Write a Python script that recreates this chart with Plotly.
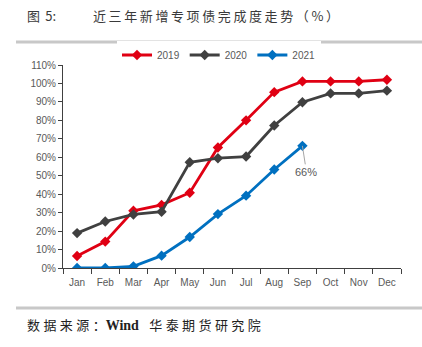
import plotly.graph_objects as go

months = ["Jan","Feb","Mar","Apr","May","Jun","Jul","Aug","Sep","Oct","Nov","Dec"]
y2019 = [6.5, 14.3, 31.0, 34.2, 40.8, 65.3, 80.0, 95.3, 101.1, 101.1, 101.1, 102.0]
y2020 = [18.9, 25.2, 29.0, 30.5, 57.3, 59.5, 60.4, 77.2, 89.8, 94.6, 94.6, 96.1]
y2021 = [0.0, 0.0, 0.9, 6.7, 16.8, 29.2, 39.2, 53.4, 66.2]
series = [("2019", y2019, "#e00013"), ("2020", y2020, "#404040"), ("2021", y2021, "#0070c0")]
yticks = list(range(0, 111, 10))

W, H = 422, 347
L, R, T, B = 63, 21, 65, 79
pw, ph = W - L - R, H - T - B
def px(x): return (x - L) / pw
def py(y): return (H - B - y) / ph
def sp(s, g="\u2009"): return g.join(s)

fig = go.Figure()
for name, vals, col in series:
    fig.add_trace(go.Scatter(
        x=months[:len(vals)], y=vals, name=name, mode="lines+markers",
        line=dict(color=col, width=2.8),
        marker=dict(symbol="diamond", size=8, color=col),
    ))

fig.add_annotation(x="Sep", y=y2021[8], text="66%", showarrow=True, arrowhead=0,
                   arrowwidth=1, arrowcolor="#a6a6a6", ax=4, ay=26,
                   font=dict(size=11, color="#595959", family="Liberation Sans"))

cjk = "Noto Sans CJK SC"
fig.add_annotation(xref="paper", yref="paper", x=px(25), y=py(15), xanchor="left", yanchor="middle",
                   text="图\u2009\u20095:", showarrow=False,
                   font=dict(size=13, color="#3a3a3a", family=cjk))
fig.add_annotation(xref="paper", yref="paper", x=px(91), y=py(15), xanchor="left", yanchor="middle",
                   text=sp("近三年新增专项债完成度走势（%）"), showarrow=False,
                   font=dict(size=13, color="#3a3a3a", family=cjk))
g2 = "\u2009\u200a"
fig.add_annotation(xref="paper", yref="paper", x=px(25), y=py(324), xanchor="left", yanchor="middle",
                   text=sp("数据来源：", g2) + "<span style='font-family:Liberation Serif;font-size:14px'><b>Wind</b></span>\u2009\u2009\u2009\u2009" + sp("华泰期货研究院", g2),
                   showarrow=False,
                   font=dict(size=13, color="#222", family=cjk))

for yy in (42, 308):
    fig.add_shape(type="line", xref="paper", yref="paper", x0=px(16), x1=px(422),
                  y0=py(yy), y1=py(yy), line=dict(color="#c8c8c8", width=3))

fig.update_layout(
    width=W, height=H, margin=dict(l=L, r=R, t=T, b=B),
    paper_bgcolor="white", plot_bgcolor="white",
    font=dict(family="Liberation Sans", size=10, color="#595959"),
    showlegend=True,
    legend=dict(orientation="h", x=px(219), xanchor="center", y=py(55), yanchor="middle",
                font=dict(size=10, color="#595959"), itemwidth=30, tracegroupgap=0),
    xaxis=dict(categoryorder="array", categoryarray=months, range=[-0.5, 11.5],
               showline=True, linecolor="#404040", linewidth=1,
               ticks="outside", tickson="boundaries", ticklen=5, tickcolor="#404040",
               ticklabelstandoff=5,
               showgrid=False, zeroline=False, tickfont=dict(size=10, color="#595959")),
    yaxis=dict(range=[0, 110], tickvals=yticks, ticktext=[f"{v}%" for v in yticks],
               showline=True, linecolor="#404040", linewidth=1,
               ticks="outside", ticklen=4, tickcolor="#404040",
               showgrid=False, zeroline=False, tickfont=dict(size=10, color="#595959")),
)

fig.write_html("out.html")
